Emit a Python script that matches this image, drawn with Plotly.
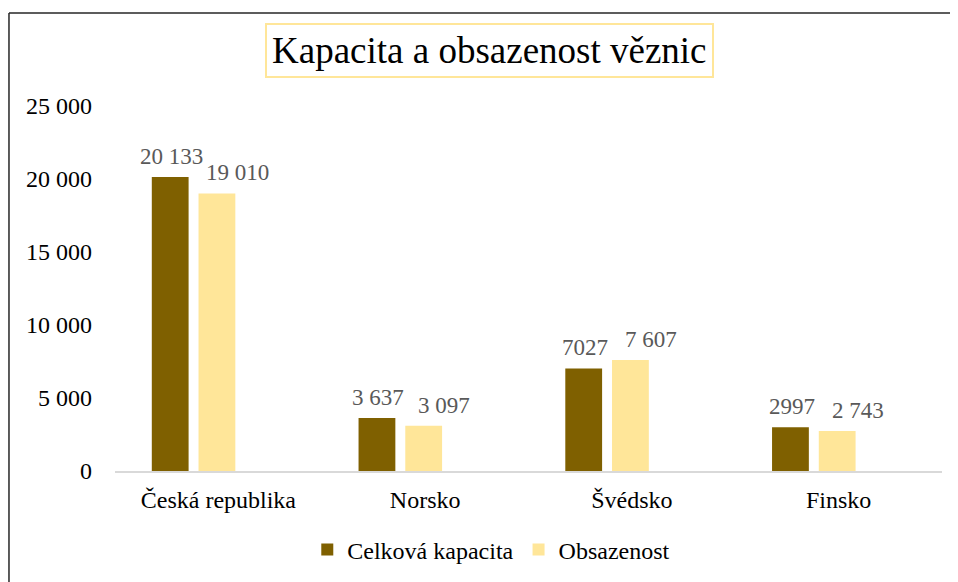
import plotly.graph_objects as go

CATEGORIES = ["Česká republika", "Norsko", "Švédsko", "Finsko"]
CAPACITY = [20133, 3637, 7027, 2997]
OCCUPANCY = [19010, 3097, 7607, 2743]
CAPACITY_LABELS = ["20 133", "3 637", "7027", "2997"]
OCCUPANCY_LABELS = ["19 010", "3 097", "7 607", "2 743"]
Y_TICKS = [0, 5000, 10000, 15000, 20000, 25000]

FONT = "Liberation Serif, Times New Roman, serif"
DARK = "#7F6000"
LIGHT = "#FFE699"
LABEL_GREY = "#595959"

BAR_WIDTH = 0.178

fig = go.Figure()
fig.add_trace(
    go.Bar(
        x=CATEGORIES,
        y=CAPACITY,
        name="Celková kapacita",
        marker={"color": DARK, "line": {"width": 0}},
        width=BAR_WIDTH,
        offset=-0.322,
    )
)
fig.add_trace(
    go.Bar(
        x=CATEGORIES,
        y=OCCUPANCY,
        name="Obsazenost",
        marker={"color": LIGHT, "line": {"width": 0}},
        width=BAR_WIDTH,
        offset=-0.096,
    )
)

# data labels, placed like the Excel ones (second series sits a bit right)
for values, labels, xshift in (
    (CAPACITY, CAPACITY_LABELS, -47),
    (OCCUPANCY, OCCUPANCY_LABELS, 19),
):
    for cat, val, lab in zip(CATEGORIES, values, labels):
        fig.add_annotation(
            x=cat,
            y=val,
            text=lab,
            showarrow=False,
            xanchor="center",
            yanchor="bottom",
            xshift=xshift,
            yshift=6,
            font={"family": FONT, "size": 23, "color": LABEL_GREY},
        )

fig.add_annotation(
    text="Kapacita a obsazenost věznic",
    xref="paper",
    yref="paper",
    x=0.4534,
    y=1.1507,
    xanchor="center",
    yanchor="middle",
    showarrow=False,
    font={"family": FONT, "size": 37, "color": "#000000"},
    bordercolor=LIGHT,
    borderwidth=2,
    borderpad=5,
    bgcolor="white",
)

# chart-area frame: only the top and left edges are in view
frame = {"color": "#262626", "width": 1.5}

# the page sets the figure 8px in from the window corner; the figure runs
# past the window edges like the cropped Excel chart does
fig.update_layout(
    width=958,
    height=582,
    margin={"l": 107, "r": 24, "t": 98, "b": 119},
    paper_bgcolor="white",
    plot_bgcolor="white",
    separators=", ",
    font={"family": FONT, "size": 24, "color": "#000000"},
    showlegend=True,
    legend={
        "orientation": "h",
        "x": 0.455,
        "xanchor": "center",
        "y": -0.216,
        "yanchor": "middle",
        "font": {"size": 24},
        "itemwidth": 30,
        "traceorder": "normal",
    },
    shapes=[
        {
            "type": "line",
            "xref": "paper",
            "yref": "paper",
            "x0": -0.1282,
            "x1": -0.1282,
            "y0": -0.4,
            "y1": 1.2548,
            "line": frame,
            "layer": "below",
        },
        {
            "type": "line",
            "xref": "paper",
            "yref": "paper",
            "x0": -0.1282,
            "x1": 1.1,
            "y0": 1.2548,
            "y1": 1.2548,
            "line": frame,
            "layer": "below",
        },
    ],
)

fig.update_xaxes(
    automargin=False,
    showline=True,
    linecolor="#D9D9D9",
    linewidth=1.5,
    showgrid=False,
    ticks="",
    ticklabelstandoff=6,
    tickfont={"size": 24},
)
fig.update_yaxes(
    automargin=False,
    range=[0, 25000],
    tickvals=Y_TICKS,
    tickformat=",d",
    showgrid=False,
    zeroline=False,
    showline=False,
    ticks="",
    ticklabelstandoff=22,
    tickfont={"size": 24},
)

fig.write_html("out.html")
